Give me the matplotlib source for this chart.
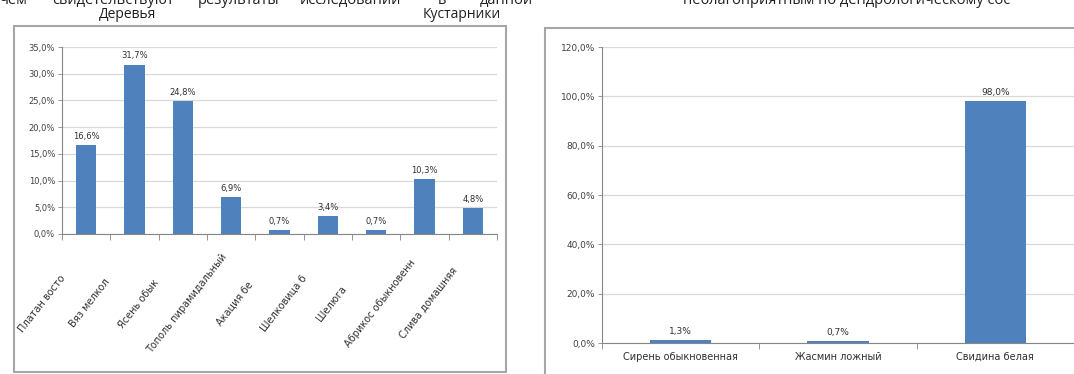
import matplotlib
matplotlib.use("Agg")
import matplotlib.pyplot as plt
from matplotlib.patches import Rectangle

# Деревья
trees = ["Платан восто", "Вяз мелкол", "Ясень обык", "Тополь пирамидальный",
         "Акация бе", "Шелковица б", "Шелюга", "Абрикос обыкновенн",
         "Слива домашняя"]
trees_pct = [16.6, 31.7, 24.8, 6.9, 0.7, 3.4, 0.7, 10.3, 4.8]
trees_ticks = [0, 5, 10, 15, 20, 25, 30, 35]

# Кустарники
shrubs = ["Сирень обыкновенная", "Жасмин ложный", "Свидина белая"]
shrubs_pct = [1.3, 0.7, 98.0]
shrubs_ticks = [0, 20, 40, 60, 80, 100, 120]

BAR = "#4F81BD"
GRID = "#D9D9D9"
AXIS = "#868686"
W, H = 1074, 374

plt.rcParams['font.family'] = ['DejaVu Sans']


def pct(v):
    return f"{v:.1f}%".replace(".", ",")


def style_axes(ax, ticks, fs):
    ax.set_ylim(ticks[0], ticks[-1])
    ax.set_yticks(ticks)
    ax.set_yticklabels([pct(t) for t in ticks], fontsize=fs, color="#404040")
    ax.yaxis.grid(True, color=GRID, lw=0.9)
    ax.set_axisbelow(True)
    for s in ("top", "right"):
        ax.spines[s].set_visible(False)
    for s in ("left", "bottom"):
        ax.spines[s].set_color(AXIS)
        ax.spines[s].set_linewidth(0.8)
    ax.tick_params(axis="y", length=3, width=0.6, color=AXIS, pad=2)
    ax.tick_params(axis="x", length=4, width=0.6, color=AXIS, labelbottom=False)


def bar_labels(ax, xs, vals, fs):
    for x, v in zip(xs, vals):
        ax.annotate(pct(v), (x, v), xytext=(0, 3), textcoords="offset points",
                    ha="center", va="bottom", fontsize=fs, color="#303030")


fig = plt.figure(figsize=(W / 100, H / 100), dpi=100)

# chart frames
fig.add_artist(Rectangle((14 / W, 1 - 372 / H), (506 - 14) / W, (372 - 26) / H,
                         transform=fig.transFigure, fill=False, ec="#A6A6A6", lw=1.5))
fig.add_artist(Rectangle((545 / W, -0.05), 0.6, 1 - 28 / H + 0.05,
                         transform=fig.transFigure, fill=False, ec="#A6A6A6", lw=1.5))

# clipped line of the document text above the charts
top = 1 - 4 / H
for x, word in [(0, "чем"), (52, "свидетельствуют"), (198, "результаты"),
                (300, "исследований"), (438, "в"), (480, "данной"),
                (683, "неблагоприятным по дендрологическому сос")]:
    fig.text(x / W, top, word, fontsize=10.5, color="#202020", va="baseline",
             family=["Open Sans", "DejaVu Sans"])
fig.text(128 / W, 1 - 14 / H, "Деревья", fontsize=10, ha="center", va="center",
         color="#202020", family=["Open Sans", "DejaVu Sans"])
fig.text(462 / W, 1 - 15 / H, "Кустарники", fontsize=10, ha="center", va="center",
         color="#202020", family=["Open Sans", "DejaVu Sans"])

# left: trees
ax1 = fig.add_axes([62 / W, 1 - 234 / H, (497 - 62) / W, (234 - 47) / H])
x1 = list(range(len(trees)))
ax1.bar(x1, trees_pct, width=0.42, color=BAR)
ax1.set_xlim(-0.5, len(trees) - 0.5)
style_axes(ax1, trees_ticks, 6)
ax1.set_xticks([i - 0.5 for i in range(len(trees) + 1)])
bar_labels(ax1, x1, trees_pct, 6)
for i, name in enumerate(trees):
    ax1.annotate(name, (i, 0), xycoords=("data", "axes fraction"),
                 xytext=(-32, -50), textcoords="offset points",
                 rotation=52, rotation_mode="anchor", ha="center", va="center",
                 fontsize=7, color="#303030")

# right: shrubs
ax2 = fig.add_axes([602 / W, 1 - 343 / H, (1074 - 602) / W, (343 - 47) / H])
x2 = list(range(len(shrubs)))
ax2.bar(x2, shrubs_pct, width=0.39, color=BAR)
ax2.set_xlim(-0.5, len(shrubs) - 0.5)
style_axes(ax2, shrubs_ticks, 6.5)
ax2.set_xticks([i - 0.5 for i in range(len(shrubs) + 1)])
bar_labels(ax2, x2, shrubs_pct, 6.5)
for i, name in enumerate(shrubs):
    ax2.annotate(name, (i, 0), xycoords=("data", "axes fraction"),
                 xytext=(0, -10), textcoords="offset points",
                 ha="center", va="center", fontsize=7, color="#303030")

fig.savefig("out.png", dpi=100)
